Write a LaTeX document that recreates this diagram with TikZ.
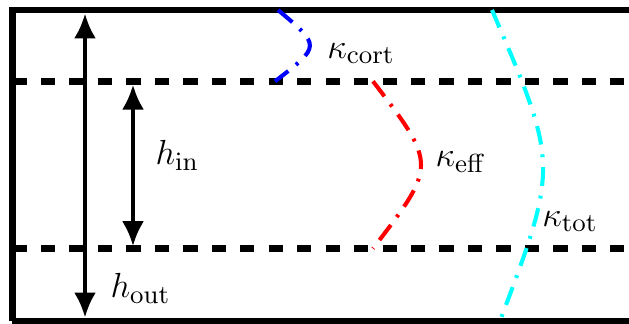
\documentclass[tikz,border=0pt]{standalone}
\usetikzlibrary{arrows.meta}

\begin{document}
\begin{tikzpicture}[x=0.0121cm, y=-0.0121cm,
    wall/.style={line width=2.4pt, line join=miter},
    interface/.style={line width=2.25pt, dash pattern=on 4.9pt off 4.9pt},
    hArrow/.style={line width=1.4pt, {Latex[length=8.6pt,width=7.6pt]}-{Latex[length=8.6pt,width=7.6pt]}},
    kappaLine/.style={line width=1.4pt, dash pattern=on 6.5pt off 3.4pt on 1pt off 3.4pt},
    tag/.style={anchor=base west, inner sep=0pt, font=\fontsize{12.6}{15}\selectfont}]
    % Define colours
    \definecolor{cortColour}{HTML}{0000FF}
    \definecolor{effColour}{HTML}{FF0000}
    \definecolor{totColour}{HTML}{00FFFF}

    % Define levels of the layers
    \def\yTop{10}
    \def\yIn{81.3}
    \def\yOut{248.5}
    \def\yBot{321}

    % Keep the picture to the size of the reference
    \clip (0,0) rectangle (629,324);

    % Draw outer wall
    \draw[wall] (12.5,\yBot) -- (12.5,\yTop) -- (660,\yTop);
    \draw[wall] (12.5,\yBot) -- (660,\yBot);

    % Draw inner interfaces
    \draw[interface] (12.5,\yIn) -- (660,\yIn);
    \draw[interface] (12.5,\yOut) -- (660,\yOut);

    % Define end points of the height arrows
    \coordinate (outTop) at (85,\yTop);
    \coordinate (outBot) at (85,\yBot);
    \coordinate (inTop) at (133,\yIn);
    \coordinate (inBot) at (133,\yOut);

    % Draw the height arrows
    \draw[hArrow, shorten <=1.2pt, shorten >=1.2pt] (outTop) -- (outBot);
    \draw[hArrow, shorten <=1.15pt, shorten >=0.8pt] (inTop) -- (inBot);

    % Label the heights
    \node[tag] (hIn) at (155,165) {$h_{\mathrm{in}}$};
    \node[tag] (hOut) at (110,298) {$h_{\mathrm{out}}$};

    % Define end points of the curvature lines
    \coordinate (cortA) at (278,\yTop);
    \coordinate (cortB) at (275,\yIn);
    \coordinate (effA) at (373,\yIn);
    \coordinate (effB) at (373,\yOut);
    \coordinate (totA) at (492,\yTop);
    \coordinate (totB) at (500,\yBot);

    % Draw the curvature lines
    \draw[kappaLine, cortColour] (cortA) .. controls (321,46) .. (cortB);
    \draw[kappaLine, effColour] (effA) .. controls (437,165) .. (effB);
    \draw[kappaLine, totColour] (totA) .. controls (558.7,165) .. (totB);

    % Label the curvatures
    \node[tag] (kCort) at (326.7,58.3) {$\kappa_{\mathrm{cort}}$};
    \node[tag] (kEff) at (435,166.7) {$\kappa_{\mathrm{eff}}$};
    \node[tag] (kTot) at (541.7,226.7) {$\kappa_{\mathrm{tot}}$};

\end{tikzpicture}
\end{document}
